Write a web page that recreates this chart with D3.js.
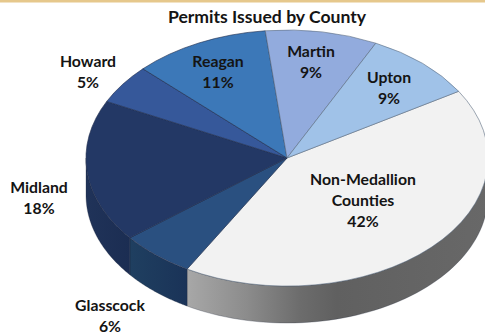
<!DOCTYPE html>
<html>
<head>
<meta charset="utf-8">
<script src="https://cdn.jsdelivr.net/npm/d3@7/dist/d3.min.js"></script>
<style>
html,body{margin:0;padding:0;background:#fff;overflow:hidden}
svg{display:block}
text{font-family:Lato,"Open Sans",sans-serif;font-weight:700;fill:#141414}
</style>
</head>
<body>
<svg id="chart" width="485" height="336"></svg>
<script>
// Permit share by county, clockwise from the Non-Medallion slice
const counties = ["Non-Medallion Counties","Glasscock","Midland","Howard","Reagan","Martin","Upton"];
const shares = [42,6,18,5,11,9,9];
const topColors = ["#f2f2f2","#2a5080","#233865","#36589a","#3c78b8","#92abdd","#a0c2e8"];
const chartTitle = "Permits Issued by County";

// Label lines and their anchor points, one entry per county
const labelLines = [["Non-Medallion","Counties","42%"],["Glasscock","6%"],["Midland","18%"],["Howard","5%"],["Reagan","11%"],["Martin","9%"],["Upton","9%"]];
const labelX = [363,110,39,88,218,311,389];
const labelY = [185,311,193,67,67,57,83];

const width = 485, height = 336;
const cx = 287, cy = 158, rx = 201, ry = 128, depth = 37;
const deg = Math.PI/180;
const firstAngle = 58.6*deg;

const svg = d3.select("#chart");
const defs = svg.append("defs");

// Thin rule along the top of the page
svg.append("rect").attr("width",width).attr("height",2.5).attr("fill","#e6c88c");

const pie = d3.pie().value(d=>d).sort(null).startAngle(firstAngle).endAngle(firstAngle+2*Math.PI);
const arcs = pie(shares);

// Projected position of an angle on the tilted rim
const rimX = a => cx + rx*Math.sin(a);
const rimY = a => cy - ry*Math.cos(a);

// Horizontal shading for the wall of each visible slice
function wallGradient(id, stops, x1, x2){
  const g = defs.append("linearGradient").attr("id",id)
    .attr("gradientUnits","userSpaceOnUse").attr("x1",x1).attr("x2",x2).attr("y1",0).attr("y2",0);
  stops.forEach(([o,c])=>g.append("stop").attr("offset",o).attr("stop-color",c));
}
wallGradient("wall0",[[0,"#a8a8a8"],[0.2,"#8c8c8c"],[0.38,"#6c6c6c"],[0.5,"#606060"],[1,"#686868"]],186,487);
wallGradient("wall1",[[0,"#1f3f60"],[1,"#1a3358"]],131,186);
wallGradient("wall2",[[0,"#203359"],[1,"#1b2d52"]],86,131);

// Wall of a slice: rim arc on top, same arc pushed down by the depth
const wallLine = d3.line();
function wallPath(a0,a1){
  const ts = d3.range(0,61).map(i=>a0+(a1-a0)*i/60);
  const top = ts.map(a=>[rimX(a),rimY(a)]);
  const bottom = ts.slice().reverse().map(a=>[rimX(a),rimY(a)+depth]);
  return wallLine(top.concat(bottom))+"Z";
}
const front0 = 90*deg, front1 = 270*deg;
const walls = arcs.map((d,i)=>({i,a0:Math.max(d.startAngle,front0),a1:Math.min(d.endAngle,front1)}))
  .filter(d=>d.a1>d.a0);
svg.append("g").selectAll("path").data(walls).join("path")
  .attr("d",d=>wallPath(d.a0,d.a1))
  .attr("fill",d=>`url(#wall${d.i})`)
  .attr("stroke","#20263a")
  .attr("stroke-opacity",0.4)
  .attr("stroke-width",0.7);

// Top face: a unit-radius pie squeezed into an ellipse
const arcGen = d3.arc().innerRadius(0).outerRadius(1);
svg.append("g").attr("transform",`translate(${cx},${cy}) scale(${rx},${ry})`)
  .selectAll("path").data(arcs).join("path")
  .attr("d",arcGen)
  .attr("fill",(d,i)=>topColors[i])
  .attr("stroke",(d,i)=>i<1||i>4?"#5b6b80":"#1e2c4c")
  .attr("stroke-opacity",0.75)
  .attr("stroke-width",0.8)
  .attr("vector-effect","non-scaling-stroke")
  .attr("stroke-linejoin","round");

svg.append("text").attr("x",267).attr("y",23).attr("text-anchor","middle")
  .attr("font-size",17.6).text(chartTitle);

const labels = svg.append("g").selectAll("text").data(counties).join("text")
  .attr("text-anchor","middle").attr("font-size",15.8)
  .attr("y",(d,i)=>labelY[i]);
labels.selectAll("tspan").data((d,i)=>labelLines[i].map(t=>({t,x:labelX[i]}))).join("tspan")
  .attr("x",d=>d.x).attr("dy",(d,j)=>j?21:0).text(d=>d.t);
</script>
</body>
</html>
